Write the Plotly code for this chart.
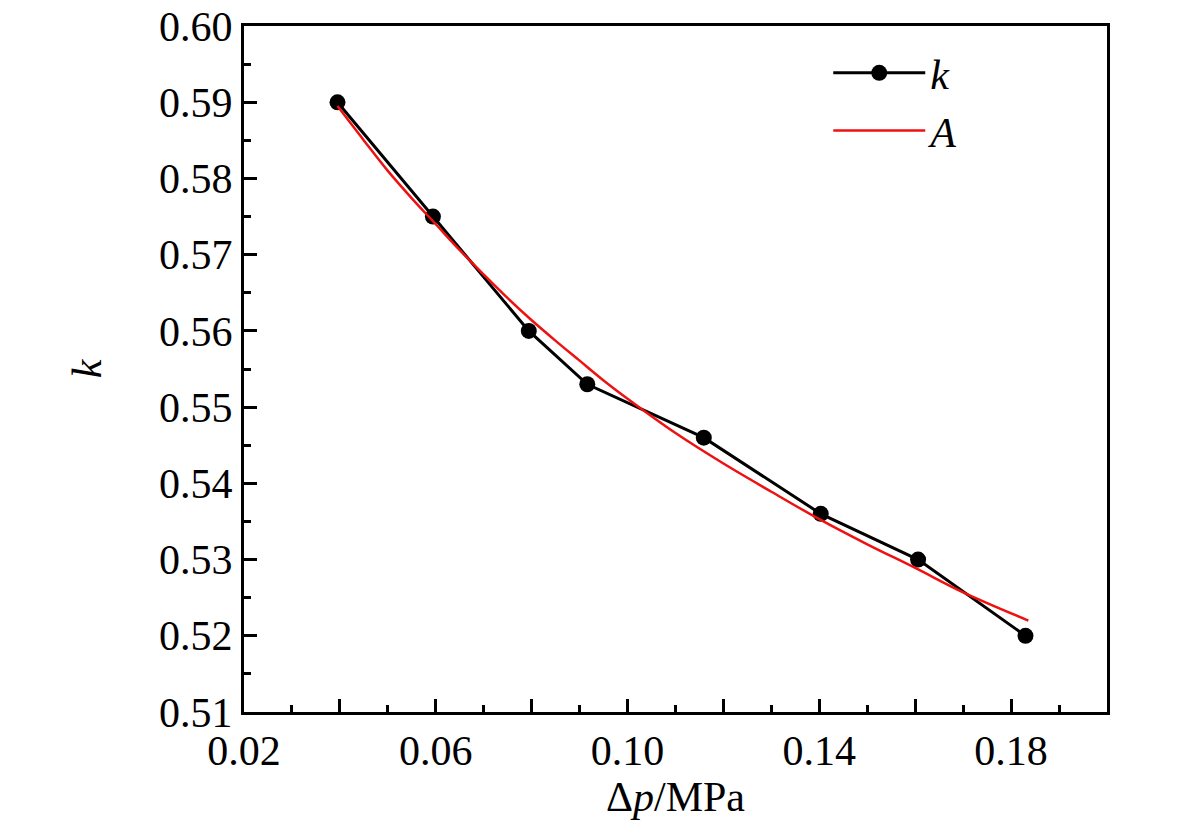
import plotly.graph_objects as go

# measured data (k)
dp_k = [0.0395, 0.0594, 0.0794, 0.0916, 0.1159, 0.1403, 0.1606, 0.1830]
k_vals = [0.590, 0.575, 0.560, 0.553, 0.546, 0.536, 0.530, 0.520]

# fitted curve (A)
dp_a = [0.0395, 0.045, 0.050, 0.055, 0.060, 0.065, 0.070, 0.075, 0.080, 0.085,
        0.090, 0.095, 0.100, 0.110, 0.120, 0.130, 0.140, 0.150, 0.160, 0.170, 0.1836]
a_vals = [0.5895, 0.5850, 0.5810, 0.5774, 0.5740, 0.5706, 0.5674, 0.5643, 0.5614, 0.5587,
          0.5561, 0.5535, 0.5511, 0.5466, 0.5426, 0.5389, 0.5353, 0.5320, 0.5289, 0.5257, 0.5220]

x_tickvals = [0.02, 0.04, 0.06, 0.08, 0.10, 0.12, 0.14, 0.16, 0.18]
x_ticktext = ["0.02", "", "0.06", "", "0.10", "", "0.14", "", "0.18"]
y_tickvals = [0.51, 0.52, 0.53, 0.54, 0.55, 0.56, 0.57, 0.58, 0.59, 0.60]
y_ticktext = ["0.51", "0.52", "0.53", "0.54", "0.55", "0.56", "0.57", "0.58", "0.59", "0.60"]

FONT = "Liberation Serif"
FS = 42

fig = go.Figure()
fig.add_trace(go.Scatter(
    x=dp_k, y=k_vals, mode="lines+markers", name="<i>k</i>",
    line=dict(color="black", width=3),
    marker=dict(color="black", size=16, symbol="circle"),
))
fig.add_trace(go.Scatter(
    x=dp_a, y=a_vals, mode="lines", name="<i>A</i>", line_shape="spline",
    line=dict(color="#ee1111", width=2.5),
))

fig.update_layout(
    width=1181, height=838,
    paper_bgcolor="white", plot_bgcolor="white",
    margin=dict(l=236, r=82, t=18, b=134),
    font=dict(family=FONT, size=FS, color="black"),
    showlegend=True,
    legend=dict(x=0.677, y=0.981, xanchor="left", yanchor="top",
                bgcolor="rgba(0,0,0,0)", font=dict(size=FS, family=FONT),
                itemwidth=92, tracegroupgap=0),
)
fig.update_xaxes(
    range=[0.02, 0.20], tickmode="array", tickvals=x_tickvals, ticktext=x_ticktext,
    ticks="inside", ticklen=13, tickwidth=2.5, tickcolor="black",
    minor=dict(dtick=0.01, tick0=0.02, ticks="inside", ticklen=7, tickwidth=2.5, tickcolor="black"),
    showline=True, linewidth=3, linecolor="black", mirror=True,
    showgrid=False, zeroline=False, ticklabeloverflow="allow", automargin=False,
    tickfont=dict(size=FS, family=FONT),
    title=dict(text="Δ<i>p</i>/MPa", font=dict(size=FS, family=FONT), standoff=6),
)
fig.update_yaxes(
    range=[0.51, 0.60001], tickmode="array", tickvals=y_tickvals, ticktext=y_ticktext,
    ticks="inside", ticklen=13, tickwidth=2.5, tickcolor="black",
    minor=dict(dtick=0.005, tick0=0.51, ticks="inside", ticklen=7, tickwidth=2.5, tickcolor="black"),
    showline=True, linewidth=3, linecolor="black", mirror=True,
    showgrid=False, zeroline=False, ticklabeloverflow="allow", automargin=False,
    tickfont=dict(size=FS, family=FONT),
    title=dict(text="<i>k</i>", font=dict(size=FS, family=FONT), standoff=45),
)

fig.write_html("out.html")
